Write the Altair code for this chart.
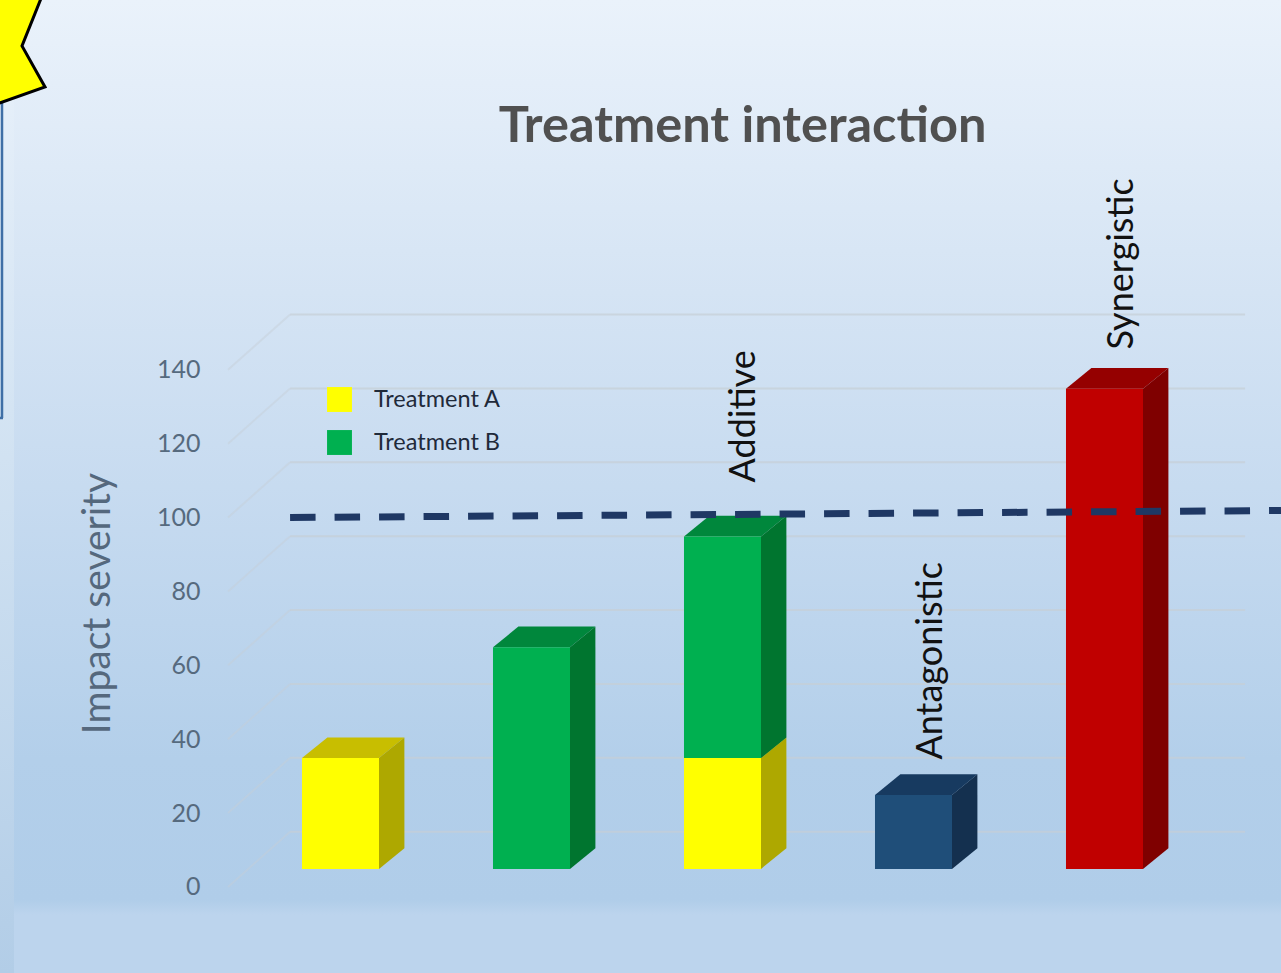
import altair as alt
import pandas as pd

# Chart values
categories = ["Treatment A", "Treatment B", "Additive", "Antagonistic", "Synergistic"]
treatment_a = [30, 0, 30, 0, 0]
treatment_b = [0, 60, 60, 0, 0]
antagonistic = [0, 0, 0, 20, 0]
synergistic = [0, 0, 0, 0, 130]
y_ticks = [0, 20, 40, 60, 80, 100, 120, 140]
threshold_ends = [100.0, 101.9]
label_names = ["Additive", "Antagonistic", "Synergistic"]
label_slots = [2.115, 3.09, 4.09]
label_bases = [90, 20, 130]
label_gaps = [9.0, 4.0, 5.0]

series_names = ["Treatment A", "Treatment B", "Antagonistic", "Synergistic"]
series_values = [treatment_a, treatment_b, antagonistic, synergistic]
front_colors = ["#ffff00", "#00b050", "#1f4e79", "#c00000"]
side_colors = ["#aea800", "#00752f", "#14304f", "#7f0000"]
top_colors = ["#c8be00", "#00873c", "#173a60", "#950000"]

W, H = 1281, 973

# Slots of the category axis and severity units fill the whole canvas
x_scale = alt.Scale(domain=[-1.7827, 4.9241], nice=False, zero=False)
y_scale = alt.Scale(domain=[-23.3, 240.1], nice=False, zero=False)

half_bar = 0.2016
depth_x = 0.133
depth_y = 5.6
floor_lift = 4.88
wall_left, wall_right, floor_left = -0.264, 4.736, -0.589
wall_lift = 14.96

front, sides, tops = [], [], []
for si, name in enumerate(series_names):
    for slot in range(len(categories)):
        value = series_values[si][slot]
        if not value:
            continue
        base = floor_lift + sum(series_values[k][slot] for k in range(si))
        top = base + value
        x0, x1 = slot - half_bar, slot + half_bar
        front.append(dict(series=name, x0=x0, x1=x1, base=base, top=top))
        key = f"{name}-{slot}"
        sides.append(dict(key=key, shade=side_colors[si], x=x1, lo=base, hi=top))
        sides.append(dict(key=key, shade=side_colors[si], x=x1 + depth_x, lo=base + depth_y, hi=top + depth_y))
        tops.append(dict(key=key, shade=top_colors[si], y=top, xa=x0, xb=x1))
        tops.append(dict(key=key, shade=top_colors[si], y=top + depth_y, xa=x0 + depth_x, xb=x1 + depth_x))

X = lambda f, **k: alt.X(f, scale=x_scale, axis=None, **k)
Y = lambda f, **k: alt.Y(f, scale=y_scale, axis=None, **k)

# Backdrop panels
main_fill = alt.Gradient(
    gradient="linear", x1=0, x2=0, y1=0, y2=1,
    stops=[
        alt.GradientStop(offset=0.0, color="#eaf2fb"),
        alt.GradientStop(offset=0.3, color="#d5e4f4"),
        alt.GradientStop(offset=0.5, color="#c7dbf0"),
        alt.GradientStop(offset=0.78, color="#b3cfea"),
        alt.GradientStop(offset=0.925, color="#b0cde9"),
        alt.GradientStop(offset=0.94, color="#bcd4ed"),
        alt.GradientStop(offset=1.0, color="#bcd4ed"),
    ],
)
strip_fill = alt.Gradient(
    gradient="linear", x1=0, x2=0, y1=0, y2=1,
    stops=[
        alt.GradientStop(offset=0.0, color="#eaf2fb"),
        alt.GradientStop(offset=0.42, color="#d4e4f3"),
        alt.GradientStop(offset=1.0, color="#b2cde7"),
    ],
)
dummy = alt.Data(values=[{"a": 0}])
main_panel = alt.Chart(dummy).mark_rect(color=main_fill).encode(
    x=alt.value(14), x2=alt.value(W), y=alt.value(0), y2=alt.value(H))
strip_panel = alt.Chart(dummy).mark_rect(color=strip_fill).encode(
    x=alt.value(0), x2=alt.value(14), y=alt.value(0), y2=alt.value(H))

box_side = alt.Chart(dummy).mark_rule(color="#3f6fa6", strokeWidth=2.5).encode(
    x=alt.value(2), y=alt.value(100), y2=alt.value(418))
box_foot = alt.Chart(dummy).mark_rule(color="#3f6fa6", strokeWidth=2.5).encode(
    x=alt.value(0), x2=alt.value(3), y=alt.value(418))

# Callout burst in the corner
star_x = [42, 22, 45, -6, -6, 42]
star_y = [-4, 46, 87, 105, -4, -4]
star = alt.Chart(pd.DataFrame({"px": star_x, "py": star_y, "n": range(6)})).mark_line(
    fill="#ffff00", stroke="#000000", strokeWidth=3, strokeJoin="miter"
).encode(
    x=alt.X("px:Q", scale=None, axis=None),
    y=alt.Y("py:Q", scale=None, axis=None),
    order="n:O",
)

# Wall gridlines and their returns towards the viewer
grid_rows = pd.DataFrame([
    dict(level=v, a=wall_left, b=wall_right, y=v + wall_lift) for v in y_ticks
])
wall_grid = alt.Chart(grid_rows).mark_rule(color="#c6ced6", opacity=0.7, strokeWidth=2).encode(
    x=X("a:Q"), x2="b:Q", y=Y("y:Q"))

diag_rows = []
for v in y_ticks:
    diag_rows.append(dict(level=v, x=floor_left, y=v))
    diag_rows.append(dict(level=v, x=wall_left, y=v + wall_lift))
diag_grid = alt.Chart(pd.DataFrame(diag_rows)).mark_line(color="#c6ced6", opacity=0.45, strokeWidth=2).encode(
    x=X("x:Q"), y=Y("y:Q"), detail="level:N")

# Severity axis, raised above the backdrop panels
axis_layer = alt.Chart(pd.DataFrame({"tick": y_ticks})).mark_point(opacity=0).encode(
    y=alt.Y(
        "tick:Q", scale=y_scale,
        axis=alt.Axis(
            values=y_ticks, title="Impact severity", orient="left", offset=-205, zindex=1,
            domain=False, ticks=False, grid=False, labelPadding=5,
            labelFont="Lato", labelFontSize=25, labelColor="#566a7e",
            titleFont="Lato", titleFontSize=39, titleFontWeight="normal", titleColor="#55687d",
            titleX=-88, titleY=603, titleAnchor="middle",
        ),
    ),
)

# Three faces of each block
top_faces = alt.Chart(pd.DataFrame(tops)).mark_area(orient="horizontal").encode(
    y=Y("y:Q"), x=X("xa:Q"), x2="xb:Q",
    color=alt.Color("shade:N", scale=None), detail="key:N")
side_faces = alt.Chart(pd.DataFrame(sides)).mark_area(orient="vertical").encode(
    x=X("x:Q"), y=Y("lo:Q"), y2="hi:Q",
    color=alt.Color("shade:N", scale=None), detail="key:N")
front_faces = alt.Chart(pd.DataFrame(front)).mark_rect().encode(
    x=X("x0:Q"), x2="x1:Q", y=Y("base:Q"), y2="top:Q",
    color=alt.Color(
        "series:N",
        scale=alt.Scale(domain=series_names, range=front_colors),
        legend=alt.Legend(
            values=["Treatment A", "Treatment B"], title=None, orient="none",
            legendX=327, legendY=387, symbolType="square", symbolSize=620,
            symbolStrokeWidth=0, labelFont="Lato", labelFontSize=23.5,
            labelColor="#1f2a3a", labelOffset=22, rowPadding=18,
        ),
    ),
)

# Additive expectation line
threshold = alt.Chart(pd.DataFrame({
    "x": [wall_left, 4.924], "y": threshold_ends,
})).mark_line(color="#1f3864", strokeWidth=7, strokeDash=[25.5, 19]).encode(
    x=X("x:Q"), y=Y("y:Q"))

# Interaction labels standing on their blocks
labels = alt.Chart(pd.DataFrame({
    "text": label_names,
    "x": label_slots,
    "y": [b + floor_lift + depth_y + g for b, g in zip(label_bases, label_gaps)],
})).mark_text(
    angle=270, align="left", baseline="middle", font="Lato", fontSize=36, color="#111111"
).encode(x=X("x:Q"), y=Y("y:Q"), text="text:N")

chart = alt.layer(
    main_panel, strip_panel, box_side, box_foot, wall_grid, diag_grid, axis_layer,
    top_faces, side_faces, front_faces, threshold, labels, star,
).resolve_scale(color="independent").resolve_axis(y="independent").properties(
    width=W, height=H, padding=0, autosize="none",
    title=alt.TitleParams(
        "Treatment interaction", orient="top", anchor="middle", dx=102, offset=-162,
        font="Lato", fontSize=50.5, fontWeight="bold", color="#505050",
    ),
).configure_view(strokeWidth=0)

chart.save("out.html", embed_options={"renderer": "svg", "actions": False})
